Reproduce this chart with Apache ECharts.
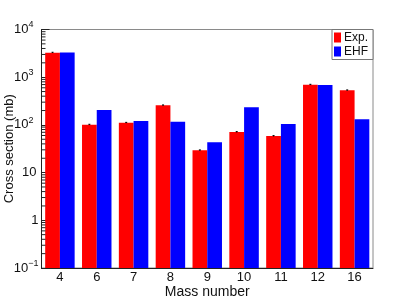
<!DOCTYPE html>
<html>
<head>
<meta charset="utf-8">
<script src="https://cdn.jsdelivr.net/npm/echarts@6/dist/echarts.min.js"></script>
<style>html,body{margin:0;padding:0;background:#fff;}#c{width:415px;height:299px;}</style>
</head>
<body>
<div id="c"></div>
<script>
const categories = ['4', '6', '7', '8', '9', '10', '11', '12', '16'];
const expValues = [3270, 101, 111, 257, 29.3, 71, 58.5, 697, 531];
const expErrors = [60, 2, 2, 5, 0.6, 1.4, 1.2, 12, 10];
const ehfValues = [3300, 205, 121, 117, 43.2, 234, 104, 690, 131];
const minorMultipliers = [2, 3, 4, 5, 6, 7, 8, 9];
const decades = [0.1, 1, 10, 100, 1000];
const legendNames = ['Exp.', 'EHF'];
const seriesColors = ['#ff0000', '#0000ff'];

const minorTicks = [];
decades.forEach(d => minorMultipliers.forEach(m => minorTicks.push([0, m * d])));

const FONT = '"Liberation Sans", Arial, Helvetica, sans-serif';
const chart = echarts.init(document.getElementById('c'), null, {renderer: 'canvas'});

function yLabel(v) {
  const k = Math.round(Math.log10(v));
  if (k === 0) return '{one|1}';
  if (k === 1) return '{ten|10}';
  const s = k < 0 ? '\u2212' + (-k) : String(k);
  return k < 0 ? '{base|10}{supn|' + s + '}' : '{base|10}{sup|' + s + '}';
}

// bars drawn from the bottom of the log axis (0.1) via the axis scale
function barRenderer(offsetFrac) {
  return function (params, api) {
    const i = api.value(0), v = api.value(1);
    const band = api.size([1, 0])[0];
    const p = api.coord([i, v]);
    const cs = params.coordSys;
    const bottom = cs.y + cs.height;
    const x = p[0] + band * offsetFrac;
    return {
      type: 'rect',
      shape: {x: x, y: p[1], width: band * 0.4, height: bottom - p[1]},
      style: {fill: api.visual('color')}
    };
  };
}

chart.setOption({
  animation: false,
  textStyle: {fontFamily: FONT},
  grid: {left: 41.5, right: 42, top: 29.5, bottom: 31, outerBoundsMode: 'none', containLabel: false, show: true, borderColor: '#8a8a8a', borderWidth: 1, backgroundColor: 'transparent'},
  legend: {
    data: legendNames.map(n => ({name: n, itemStyle: {color: seriesColors[legendNames.indexOf(n)]}})),
    orient: 'vertical',
    left: 332, top: 29.5,
    padding: [1, 5, 1, 2],
    itemGap: 0,
    itemWidth: 7, itemHeight: 10,
    backgroundColor: '#fff',
    borderColor: '#777', borderWidth: 1, borderRadius: 0,
    icon: 'rect',
    textStyle: {fontSize: 12, color: '#111', fontFamily: FONT, padding: [0, 0, 0, -2], lineHeight: 14},
    z: 10
  },
  xAxis: {
    type: 'category',
    data: categories,
    axisLine: {lineStyle: {color: '#222', width: 1}},
    axisTick: {show: false},
    axisLabel: {fontSize: 13, color: '#111', margin: 3, fontFamily: FONT},
    name: 'Mass number',
    nameLocation: 'middle',
    nameGap: 17,
    nameMoveOverlap: false,
    nameTextStyle: {fontSize: 14, color: '#111', fontFamily: FONT},
    splitLine: {show: false}
  },
  yAxis: {
    type: 'log',
    logBase: 10,
    min: 0.1,
    max: 10000,
    axisLine: {show: true, lineStyle: {color: '#222', width: 1}},
    axisTick: {show: true, inside: true, length: 8, lineStyle: {color: '#222'}},
    splitLine: {show: false},
    axisLabel: {
      margin: 3,
      formatter: yLabel,
      color: '#111',
      rich: {
        base: {fontSize: 13, fontFamily: FONT, color: '#111'},
        sup: {fontSize: 9, fontFamily: FONT, color: '#111', padding: [0, 5, 9, 0]},
        supn: {fontSize: 9, fontFamily: FONT, color: '#111', padding: [0, 0, 9, 0]},
        ten: {fontSize: 13, fontFamily: FONT, color: '#111', padding: [0, 2, 0, 0]},
        one: {fontSize: 13, fontFamily: FONT, color: '#111'}
      }
    },
    name: 'Cross section (mb)',
    nameLocation: 'middle',
    nameGap: 26,
    nameMoveOverlap: false,
    nameTextStyle: {fontSize: 13, color: '#111', fontFamily: FONT}
  },
  series: [
    {
      name: legendNames[0], type: 'custom',
      data: expValues.map((v, i) => [i, v]),
      itemStyle: {color: seriesColors[0]},
      encode: {x: 0, y: 1},
      renderItem: barRenderer(-0.4),
      z: 2
    },
    {
      name: legendNames[1], type: 'custom',
      data: ehfValues.map((v, i) => [i, v]),
      itemStyle: {color: seriesColors[1]},
      encode: {x: 0, y: 1},
      renderItem: barRenderer(0),
      z: 2
    },
    {
      type: 'custom',
      name: 'err',
      data: expValues.map((v, i) => [i, v, expErrors[i]]),
      z: 5,
      silent: true,
      renderItem: function (params, api) {
        const i = api.value(0), v = api.value(1), e = api.value(2);
        const band = api.size([1, 0])[0];
        const cx = api.coord([i, v])[0] - band * 0.2;
        const yTop = api.coord([i, v + e])[1];
        const yBot = api.coord([i, v - e])[1];
        return {
          type: 'group',
          children: [
            {type: 'line', shape: {x1: cx, y1: yTop, x2: cx, y2: yBot}, style: {stroke: '#000', lineWidth: 1}},
            {type: 'line', shape: {x1: cx - 1, y1: yTop, x2: cx + 1, y2: yTop}, style: {stroke: '#000', lineWidth: 1}}
          ]
        };
      }
    },
    {
      type: 'custom',
      name: 'minor',
      data: minorTicks,
      z: 6,
      silent: true,
      renderItem: function (params, api) {
        const y = api.coord([0, api.value(1)])[1];
        const x0 = params.coordSys.x;
        return {type: 'line', shape: {x1: x0, y1: y, x2: x0 + 4, y2: y}, style: {stroke: '#222', lineWidth: 1}};
      }
    }
  ]
});
</script>
</body>
</html>
